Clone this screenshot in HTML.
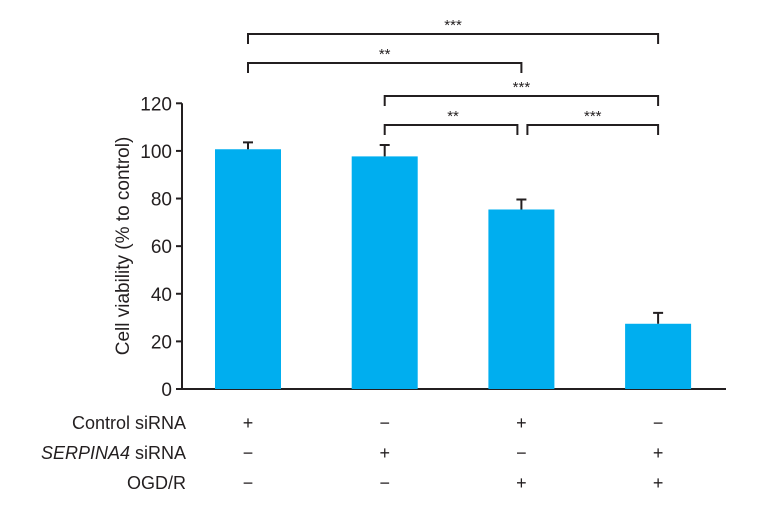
<!DOCTYPE html>
<html><head><meta charset="utf-8"><style>
body{margin:0;background:#fff}
svg{font-family:"Liberation Sans",sans-serif}
</style></head><body>
<svg id="c" width="777" height="508"></svg>
<script>
const categories=["Control siRNA + OGD/R −","SERPINA4 siRNA","Control siRNA + OGD/R","SERPINA4 siRNA + OGD/R"];
const values=[100.7,97.7,75.4,27.4];
const errors=[2.9,4.8,4.2,4.6];
const yTicks=[0,20,40,60,80,100,120];
const rowLabels=["Control siRNA","SERPINA4 siRNA","OGD/R"];
const rowSigns=[["+","−","+","−"],["−","+","−","+"],["−","−","+","+"]];
const sigPairs=[[0,3,"***"],[0,2,"**"],[1,3,"***"],[1,2,"**"],[2,3,"***"]];
const NS="http://www.w3.org/2000/svg",svg=document.getElementById('c');
const y0=389,y1=103.3,ymax=120;
const y=v=>y0-(v/ymax)*(y0-y1);
const xc=i=>248+i*136.7;
const bw=66;
function mk(t,a,p){const e=document.createElementNS(NS,t);for(const k in a)e.setAttribute(k,a[k]);(p||svg).appendChild(e);return e;}
const ax=mk('line',{x1:182,y1:y1,x2:182,y2:y0,stroke:'#231f20','stroke-width':2});

const xa=mk('line',{x1:181,y1:y0,x2:726,y2:y0,stroke:'#231f20','stroke-width':2});

yTicks.forEach(t=>{
  mk('line',{x1:176,y1:y(t),x2:182,y2:y(t),stroke:'#231f20','stroke-width':2});
  const tx=mk('text',{x:172,y:y(t)+7,'text-anchor':'end','font-size':19,fill:'#231f20'});tx.textContent=t;
  
});
const yt=mk('text',{x:0,y:0,transform:'translate(129,246) rotate(-90)','text-anchor':'middle','font-size':19,fill:'#231f20'});
yt.textContent='Cell viability (% to control)';

values.forEach((v,i)=>{
  const b=mk('rect',{x:xc(i)-bw/2,y:y(v),width:bw,height:y0-y(v),fill:'#00aeef'});
  
  const et=y(v+errors[i]);
  const e=mk('path',{d:`M${xc(i)} ${y(v)}V${et}M${xc(i)-5} ${et}H${xc(i)+5}`,stroke:'#231f20','stroke-width':2,fill:'none'});
  
});
const levels=[34,63,96,125,125];
sigPairs.forEach((p,k)=>{
  const a=xc(p[0])+(k==4?6:0),b=xc(p[1]),ly=levels[k],off=(k==3?-4:0);
  const g=mk('path',{d:`M${a} ${ly+10}V${ly}H${b+off}V${ly+10}`,stroke:'#231f20','stroke-width':2,fill:'none'});
  
  const t=mk('text',{x:(a+b)/2,y:ly-4,'text-anchor':'middle','font-size':15,fill:'#231f20'});t.textContent=p[2];
  
});
rowLabels.forEach((l,r)=>{
  const ry=429+r*30;
  const t=mk('text',{x:186,y:ry,'text-anchor':'end','font-size':18,fill:'#231f20'});
  if(r==1){const s=mk('tspan',{'font-style':'italic'},t);s.textContent='SERPINA4';const s2=mk('tspan',{},t);s2.textContent=' siRNA';}
  else t.textContent=l;
  
  rowSigns[r].forEach((s,i)=>{
    const st=mk('text',{x:xc(i),y:ry,'text-anchor':'middle','font-size':18,fill:'#231f20'});st.textContent=s;
    
  });
});
</script>
</body></html>
